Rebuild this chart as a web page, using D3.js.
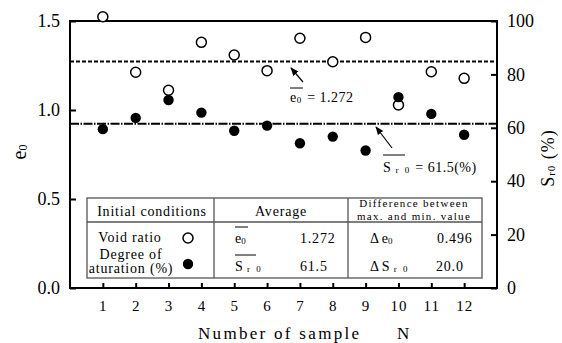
<!DOCTYPE html>
<html>
<head>
<meta charset="utf-8">
<script src="https://cdn.jsdelivr.net/npm/d3@7"></script>
<style>
  body { margin: 0; background: #fff; }
  svg { display: block; font-family: "Liberation Serif", "Times New Roman", Times, serif; }
</style>
</head>
<body>
<svg id="chart" width="562" height="343"></svg>
<script>
// data
var samples = [1, 2, 3, 4, 5, 6, 7, 8, 9, 10, 11, 12];
var voidRatio = [1.524, 1.212, 1.111, 1.380, 1.309, 1.221, 1.403, 1.271, 1.408, 1.028, 1.215, 1.178];
var saturation = [59.5, 63.7, 70.4, 65.7, 58.9, 60.8, 54.2, 56.7, 51.5, 71.5, 65.2, 57.4];
var meanE = 1.272;
var meanS = 61.5;
var leftTicks = [0, 0.5, 1.0, 1.5];
var rightTicks = [0, 20, 40, 60, 80, 100];

var svg = d3.select("#chart");
var pL = 70, pR = 497, pT = 21, pB = 288;

var x = d3.scaleLinear().domain([0, 13]).range([pL, pR]);
var yL = d3.scaleLinear().domain([0, 1.5]).range([pB, pT]);
var yR = d3.scaleLinear().domain([0, 100]).range([pB, pT]);

// arrow head
svg.append("defs").append("marker")
    .attr("id", "arr").attr("viewBox", "0 0 10 10")
    .attr("refX", 9).attr("refY", 5)
    .attr("markerWidth", 7).attr("markerHeight", 7)
    .attr("orient", "auto")
  .append("path").attr("d", "M0,1 L10,5 L0,9 Z").attr("fill", "#000");

// axes (ticks point inwards)
var axL = svg.append("g").attr("transform", "translate(" + pL + ",0)")
    .call(d3.axisLeft(yL).tickValues(leftTicks).tickFormat(d3.format(".1f"))
      .tickSize(-6).tickSizeOuter(0).tickPadding(10));
axL.selectAll("text").attr("font-size", 18);

var axR = svg.append("g").attr("transform", "translate(" + pR + ",0)")
    .call(d3.axisRight(yR).tickValues(rightTicks).tickSize(-6).tickSizeOuter(0).tickPadding(10));
axR.selectAll("text").attr("font-size", 18);

var axB = svg.append("g").attr("transform", "translate(0," + pB + ")")
    .call(d3.axisBottom(x).tickValues(samples).tickSize(-5).tickSizeOuter(0).tickPadding(12));
axB.selectAll("text").attr("font-size", 15).attr("letter-spacing", 1);

svg.selectAll(".tick line").attr("stroke", "#000").attr("stroke-width", 2);
svg.selectAll(".domain").remove();
svg.selectAll("g").attr("font-family", null);
svg.selectAll(".tick text").attr("fill", "#000");

// frame
svg.append("rect").attr("x", pL).attr("y", pT)
    .attr("width", pR - pL).attr("height", pB - pT)
    .attr("fill", "none").attr("stroke", "#000").attr("stroke-width", 2);

// mean lines
svg.append("line").attr("x1", pL).attr("x2", pR)
    .attr("y1", yL(meanE)).attr("y2", yL(meanE))
    .attr("stroke", "#000").attr("stroke-width", 2).attr("stroke-dasharray", "4,2");
svg.append("line").attr("x1", pL).attr("x2", pR)
    .attr("y1", yR(meanS)).attr("y2", yR(meanS))
    .attr("stroke", "#000").attr("stroke-width", 2).attr("stroke-dasharray", "9,1.5,1.5,1.5");

// points
svg.selectAll("circle.open").data(samples).enter().append("circle")
    .attr("class", "open")
    .attr("cx", function (d) { return x(d); })
    .attr("cy", function (d, i) { return yL(voidRatio[i]); })
    .attr("r", 5).attr("fill", "#fff").attr("stroke", "#000").attr("stroke-width", 1.5);
svg.selectAll("circle.fill").data(samples).enter().append("circle")
    .attr("class", "fill")
    .attr("cx", function (d) { return x(d); })
    .attr("cy", function (d, i) { return yR(saturation[i]); })
    .attr("r", 5.2).attr("fill", "#000");

// helper: symbol with subscript
function sym(g, px, py, main, sub, size, subSize, rest) {
  var t = g.append("text").attr("x", px).attr("y", py).attr("font-size", size).attr("fill", "#000");
  t.append("tspan").text(main);
  t.append("tspan").attr("font-size", subSize).attr("dy", 1).attr("letter-spacing", 2).text(sub);
  if (rest) t.append("tspan").attr("dy", -1).text(rest);
  return t;
}
function bar(x1, x2, yy) {
  svg.append("line").attr("x1", x1).attr("x2", x2).attr("y1", yy).attr("y2", yy)
    .attr("stroke", "#000").attr("stroke-width", 1);
}

// annotations
bar(290, 303, 88);
sym(svg, 290, 102, "e", "0", 14, 9, " = 1.272").attr("letter-spacing", 0.5);
svg.append("line").attr("x1", 303).attr("y1", 82).attr("x2", 291).attr("y2", 68)
    .attr("stroke", "#000").attr("stroke-width", 1.2).attr("marker-end", "url(#arr)");

bar(383, 405, 155);
sym(svg, 383, 172, "S", " r 0", 14, 9, " = 61.5(%)").attr("letter-spacing", 0.5);
svg.append("line").attr("x1", 392).attr("y1", 148).attr("x2", 376).attr("y2", 127)
    .attr("stroke", "#000").attr("stroke-width", 1.2).attr("marker-end", "url(#arr)");

// axis titles
var tl = svg.append("text").attr("transform", "translate(26,152) rotate(-90)")
    .attr("text-anchor", "middle").attr("font-size", 20);
tl.append("tspan").text("e");
tl.append("tspan").attr("font-size", 12).attr("dy", 1).text("0");

var tr = svg.append("text").attr("transform", "translate(554,158) rotate(-90)")
    .attr("text-anchor", "middle").attr("font-size", 18).attr("letter-spacing", 1);
tr.append("tspan").text("S");
tr.append("tspan").attr("font-size", 11).attr("dy", 1).text("r0");
tr.append("tspan").attr("dy", -1).text(" (%)");

svg.append("text").attr("x", 198).attr("y", 339).attr("font-size", 17)
    .attr("letter-spacing", 2.3).text("Number of sample");
svg.append("text").attr("x", 397).attr("y", 339).attr("font-size", 17).text("N");

// summary table
var tb = svg.append("g");
var tx0 = 87, tx1 = 482, ty0 = 198, ty1 = 278, tyh = 222, c1 = 214, c2 = 348;
tb.append("rect").attr("x", tx0).attr("y", ty0).attr("width", tx1 - tx0).attr("height", ty1 - ty0)
    .attr("fill", "#fff").attr("stroke", "#555").attr("stroke-width", 1.3);
tb.append("line").attr("x1", tx0).attr("x2", tx1).attr("y1", tyh).attr("y2", tyh)
    .attr("stroke", "#555").attr("stroke-width", 1.3);
[c1, c2].forEach(function (cx) {
  tb.append("line").attr("x1", cx).attr("x2", cx).attr("y1", ty0).attr("y2", ty1)
    .attr("stroke", "#555").attr("stroke-width", 1.3);
});

function cell(txt, px, py, size, ls, anchor) {
  return tb.append("text").attr("x", px).attr("y", py).attr("font-size", size)
    .attr("letter-spacing", ls).attr("text-anchor", anchor || "middle").text(txt);
}
cell("Initial conditions", 152, 216, 14, 0.8);
cell("Average", 281, 216, 14, 0.8);
cell("Difference between", 414, 207, 11, 1.3);
cell("max. and min. value", 414, 219.5, 11, 1.3);
cell("Void ratio", 130, 242, 14, 0.8);
cell("Degree of", 131, 259, 14, 0.8);
cell("aturation (%)", 131, 273, 14, 0.8);

tb.append("circle").attr("cx", 188).attr("cy", 238).attr("r", 5)
    .attr("fill", "#fff").attr("stroke", "#000").attr("stroke-width", 1.5);
tb.append("circle").attr("cx", 188).attr("cy", 264).attr("r", 5.2).attr("fill", "#000");

bar(235, 248, 227);
sym(tb, 235, 243, "e", "0", 14, 9);
bar(235, 256, 255);
sym(tb, 235, 271, "S", " r 0", 14, 9);
cell("1.272", 300, 243, 14, 0.8, "start");
cell("61.5", 300, 271, 14, 0.8, "start");

sym(tb, 370, 243, "\u0394 e", "0", 14, 9);
sym(tb, 370, 271, "\u0394 S", " r 0", 14, 9);
cell("0.496", 437, 243, 14, 0.8, "start");
cell("20.0", 436, 271, 14, 0.8, "start");
</script>
</body>
</html>
